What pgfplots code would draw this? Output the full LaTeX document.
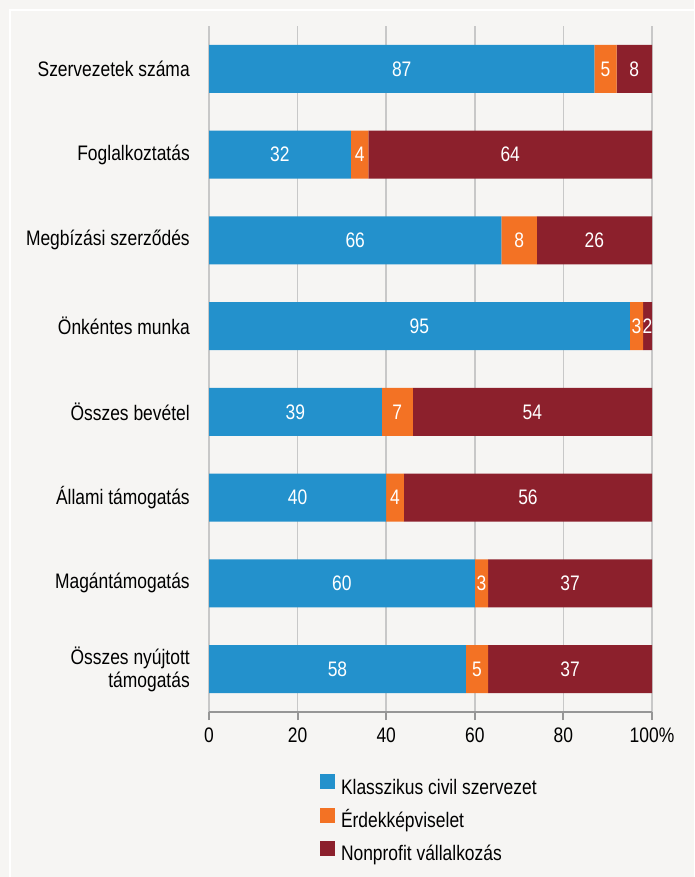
\documentclass[border=0pt]{standalone}
\usepackage{pgfplots}
\pgfplotsset{compat=1.18}
\usepackage{pgfplotstable}
\usepackage{fontspec}
\setmainfont{Liberation Sans}[FakeStretch=0.83]

\definecolor{civ}{RGB}{35,145,204}
\definecolor{erd}{RGB}{243,114,36}
\definecolor{non}{RGB}{140,32,44}
\definecolor{bg}{RGB}{246,245,243}
\definecolor{gridgray}{RGB}{200,200,200}
\definecolor{axisgray}{RGB}{150,150,150}

% share of each group, %
\pgfplotstableread{
pos civ erd non
1 87 5 8
2 32 4 64
3 66 8 26
4 95 3 2
5 39 7 54
6 40 4 56
7 60 3 37
8 58 5 37
}\shares

\begin{document}
\fontsize{15.75}{17.25}\selectfont
\begin{tikzpicture}
\fill[bg] (0,0) rectangle (520.5pt,-657.75pt);
\draw[white, line width=1.5pt] (6.75pt,-7.5pt) -- (520.5pt,-7.5pt);
\draw[white, line width=1.5pt] (7.5pt,-7.5pt) -- (7.5pt,-657.75pt);
\begin{axis}[
    at={(156.75pt,-534pt)}, anchor=south west,
    width=332.25pt, height=514.5pt, scale only axis,
    xbar stacked, bar width=36pt,
    xmin=0, xmax=100, ymin=0.5, ymax=8.5, y dir=reverse,
    xtick={0,20,...,100}, xticklabels={0,20,40,60,80,100\%},
    ytick={1,...,8},
    yticklabels={Szervezetek száma, Foglalkoztatás, Megbízási szerződés,
      Önkéntes munka, Összes bevétel, Állami támogatás, Magántámogatás,
      {Összes nyújtott\\támogatás}},
    yticklabel style={align=right, inner sep=0pt, xshift=-8.25pt},
    xticklabel style={inner sep=0pt, yshift=-6pt},
    /pgf/number format/assume math mode=true,
    separate axis lines,
    axis x line*=bottom, axis y line*=left,
    x axis line style={draw=axisgray, line width=1.5pt, -},
    y axis line style={draw=none},
    ytick style={draw=none},
    xtick style={draw=axisgray, line width=1.5pt},
    tick align=outside, major tick length=6pt,
    xmajorgrids, grid style={draw=gridgray, line width=1.1pt},
    point meta=explicit,
    nodes near coords,
    % stacked bars already put the label mid-segment with anchor=center
    every node near coord/.append style={white, anchor=center, inner sep=0pt},
    legend image code/.code={\fill[#1] (0pt,0pt) rectangle (11.25pt,11.25pt);},
    legend cell align=left,
    legend style={at={(axis description cs:0.2506,-0.0905)}, anchor=north west,
      draw=none, fill=none, inner sep=0pt, row sep=5.6pt, column sep=4.3pt,
      nodes={inner sep=0pt, text height=12pt, text depth=4pt}},
]
\addplot[fill=civ, draw=none] table[x=civ, y=pos, meta=civ]{\shares};
\addlegendentry{Klasszikus civil szervezet}
\addplot[fill=erd, draw=none] table[x=erd, y=pos, meta=erd]{\shares};
\addlegendentry{Érdekképviselet}
\addplot[fill=non, draw=none] table[x=non, y=pos, meta=non]{\shares};
\addlegendentry{Nonprofit vállalkozás}
\end{axis}
\pgfresetboundingbox
\path (0,0) rectangle (520.5pt,-657.75pt);
\end{tikzpicture}
\end{document}
